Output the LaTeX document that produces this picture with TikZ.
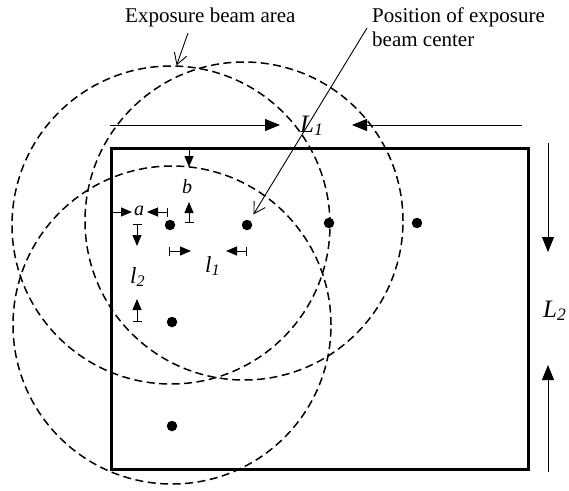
\documentclass[tikz,border=0pt]{standalone}
\usepackage{fontspec}
\setmainfont{Liberation Serif}
\usetikzlibrary{arrows.meta}
\begin{document}
\begin{tikzpicture}[x=1pt,y=-1pt,
  dotnode/.style={circle,fill=black,inner sep=0pt,minimum size=10.5pt},
  beam/.style={circle,draw,dash pattern=on 8pt off 4.5pt,line width=1.5pt,minimum size=318pt,inner sep=0pt},
  bigarrow/.style={-{Triangle[length=15pt,width=12pt]},line width=0.9pt},
  dimarrow/.style={{Bar[width=9pt]}-{Triangle[length=11pt,width=9pt]},line width=1pt},
  plainarrow/.style={-{Triangle[length=11pt,width=9pt]},line width=1pt},
  pointer/.style={-{Straight Barb[length=11pt,width=13pt]},line width=0.9pt},
  title/.style={inner sep=0pt,font=\fontsize{21}{24}\selectfont,align=left},
  biglabel/.style={inner sep=0pt,font=\fontsize{25}{28}\selectfont},
  midlabel/.style={inner sep=0pt,font=\fontsize{23}{27}\selectfont},
  smalllabel/.style={inner sep=0pt,font=\fontsize{20}{22}\selectfont}
]
\useasboundingbox (0,0) rectangle (569,490);
% plate
\node[draw,line width=2.8pt,inner sep=0pt,minimum width=417pt,minimum height=321pt,anchor=north west] (plate) at (110,147) {};
% beam centres
\node[dotnode] (d1) at (170,225) {};
\node[dotnode] (d2) at (247,225) {};
\node[dotnode] (d3) at (329,223) {};
\node[dotnode] (d4) at (417,223) {};
\node[dotnode] (d5) at (172,322) {};
\node[dotnode] (d6) at (172,426) {};
% beam areas
\node[beam] (c1) at (171,225) {};
\node[beam] (c2) at (244,221) {};
\node[beam] (c3) at (172,325) {};
% titles
\node[title,anchor=base west] (t1) at (125,22) {Exposure beam area};
\node[title,anchor=base west] (t2) at (372,46) {Position of exposure\\beam center};
\coordinate (t1p) at (188,33);
\coordinate (t2p) at (367,28);
\draw[pointer] (t1p) -- (c1.88);
\draw[pointer,shorten >=7pt] (t2p) -- (d2);
% L1
\node[biglabel,anchor=base west] (L1) at (300,132) {\textit{L\textsubscript{1}}};
\coordinate (L1a) at (110,125);
\coordinate (L1b) at (522,125);
\draw[bigarrow] (L1a) -- (280,125);
\draw[bigarrow] (L1b) -- (352,125);
% L2
\node[biglabel,anchor=base west] (L2) at (543,317) {\textit{L\textsubscript{2}}};
\coordinate (L2a) at (548,143);
\coordinate (L2b) at (548,472);
\draw[bigarrow] (L2a) -- (548,252);
\draw[bigarrow] (L2b) -- (548,365);
% b
\node[smalllabel,anchor=base west] (b) at (182,193) {\textit{b}};
\draw[dimarrow] (189,147) -- (189,167);
\draw[dimarrow] (189,223) -- (189,202);
% a
\node[smalllabel,anchor=base west] (a) at (134,215) {\textit{a}};
\draw[plainarrow] (110,212) -- (132,212);
\draw[dimarrow] (168,212) -- (147,212);
% l1
\node[midlabel,anchor=base west] (l1) at (205,272) {\textit{l\textsubscript{1}}};
\draw[dimarrow] (169,251) -- (191,251);
\draw[dimarrow] (247,251) -- (226,251);
% l2
\node[midlabel,anchor=base west] (l2) at (130,283) {\textit{l\textsubscript{2}}};
\draw[dimarrow] (137,224) -- (137,246);
\draw[dimarrow] (137,322) -- (137,299);
\end{tikzpicture}
\end{document}
